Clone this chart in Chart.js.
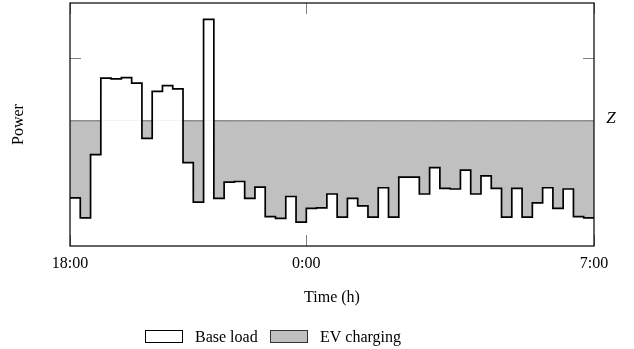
<!DOCTYPE html>
<html>
<head>
<meta charset="utf-8">
<script src="https://cdn.jsdelivr.net/npm/chart.js@4.4.0/dist/chart.umd.min.js"></script>
<style>
  html, body { margin: 0; padding: 0; background: #fff; }
</style>
</head>
<body>
<canvas id="chart" width="634" height="349"></canvas>
<script>
// base load for each 15 min slot from 18:00 to 7:00 (arbitrary power units)
const baseLoad = [0.77, 0.45, 1.46, 2.68, 2.67, 2.69, 2.60, 1.72, 2.47, 2.56,
                  2.51, 1.33, 0.70, 3.62, 0.76, 1.02, 1.03, 0.76, 0.94, 0.47,
                  0.44, 0.79, 0.38, 0.60, 0.61, 0.83, 0.46, 0.76, 0.64, 0.46,
                  0.93, 0.46, 1.10, 1.10, 0.83, 1.25, 0.92, 0.91, 1.21, 0.83,
                  1.12, 0.92, 0.46, 0.92, 0.46, 0.69, 0.93, 0.60, 0.91, 0.47,
                  0.45];
const zLevel = 2.0;           // level Z filled up by EV charging
const xTickPos = [0, 23, 51];
const xTickLabels = ["18:00", "0:00", "7:00"];
const yTickPos = [3];
const seriesNames = ["Base load", "EV charging"];

const FONT = "'Liberation Serif', 'Times New Roman', serif";

// points for the stepped line (last value repeated to close the last slot)
const basePoints = baseLoad.map((v, i) => ({ x: i, y: v }));
basePoints.push({ x: baseLoad.length, y: baseLoad[baseLoad.length - 1] });
const zPoints = basePoints.map(p => ({ x: p.x, y: zLevel }));

// frame, inner ticks, Z label and legend
const decorations = {
    id: "decorations",
    afterDraw(chart) {
        const ctx = chart.ctx;
        const a = chart.chartArea;
        const xs = chart.scales.x;
        const ys = chart.scales.y;
        ctx.save();

        // inner ticks
        ctx.strokeStyle = "#808080";
        ctx.lineWidth = 1;
        ctx.beginPath();
        xTickPos.forEach(v => {
            const px = Math.round(xs.getPixelForValue(v)) + 0.5;
            ctx.moveTo(px, a.bottom); ctx.lineTo(px, a.bottom - 11);
            ctx.moveTo(px, a.top); ctx.lineTo(px, a.top + 11);
        });
        yTickPos.forEach(v => {
            const py = Math.round(ys.getPixelForValue(v)) + 0.5;
            ctx.moveTo(a.left, py); ctx.lineTo(a.left + 11, py);
            ctx.moveTo(a.right, py); ctx.lineTo(a.right - 11, py);
        });
        ctx.stroke();

        // frame
        ctx.strokeStyle = "#000";
        ctx.lineWidth = 1.2;
        ctx.strokeRect(a.left, a.top, a.right - a.left, a.bottom - a.top);

        // Z label
        ctx.fillStyle = "#000";
        ctx.font = "italic 17px " + FONT;
        ctx.textAlign = "center";
        ctx.textBaseline = "middle";
        ctx.fillText("Z", 611, ys.getPixelForValue(zLevel) - 2);

        // legend
        const items = [
            { x: 145, fill: "#fff", stroke: "#000", text: seriesNames[0] },
            { x: 270, fill: "#c0c0c0", stroke: "#333", text: seriesNames[1] },
        ];
        ctx.font = "16px " + FONT;
        ctx.textAlign = "left";
        ctx.textBaseline = "alphabetic";
        items.forEach(it => {
            ctx.fillStyle = it.fill;
            ctx.fillRect(it.x + 0.5, 330.5, 37, 12);
            ctx.strokeStyle = it.stroke;
            ctx.lineWidth = 1;
            ctx.strokeRect(it.x + 0.5, 330.5, 37, 12);
            ctx.fillStyle = "#000";
            ctx.fillText(it.text, it.x + 50, 341.5);
        });
        ctx.restore();
    },
};

new Chart(document.getElementById("chart"), {
    type: "line",
    data: {
        datasets: [
            {
                label: seriesNames[0],
                data: basePoints,
                stepped: "before",
                borderColor: "#000",
                borderWidth: 1.7,
                backgroundColor: "#fff",
                pointRadius: 0,
                fill: { target: { value: zLevel }, above: "rgba(0,0,0,0)", below: "#c0c0c0" },
                order: 0,
            },
            {
                label: seriesNames[1],
                data: zPoints,
                stepped: "before",
                borderColor: "#444",
                borderWidth: 0.8,
                backgroundColor: "#c0c0c0",
                pointRadius: 0,
                fill: false,
                order: 1,
                segment: {
                    borderColor: c => baseLoad[c.p0DataIndex] < zLevel ? "#444" : "rgba(0,0,0,0)",
                },
            },
        ],
    },
    options: {
        responsive: false,
        animation: false,
        layout: { padding: { top: 3, right: 40, bottom: 40, left: 0 } },
        plugins: {
            legend: { display: false },
            tooltip: { enabled: false },
            filler: { drawTime: "beforeDatasetsDraw" },
        },
        scales: {
            x: {
                type: "linear",
                min: 0,
                max: baseLoad.length,
                afterFit: s => { s.height = 63; },
                afterBuildTicks: s => { s.ticks = xTickPos.map(v => ({ value: v })); },
                grid: { display: false, drawTicks: false },
                border: { display: false },
                ticks: {
                    padding: 8,
                    maxRotation: 0,
                    autoSkip: false,
                    color: "#000",
                    font: { family: FONT, size: 16 },
                    callback: v => xTickLabels[xTickPos.indexOf(v)],
                },
                title: {
                    display: true,
                    text: "Time (h)",
                    color: "#000",
                    font: { family: FONT, size: 16 },
                    padding: { top: 0, bottom: 2 },
                },
            },
            y: {
                min: 0,
                max: 3.88,
                afterFit: s => { s.width = 70; },
                grid: { display: false, drawTicks: false },
                border: { display: false },
                ticks: { display: false },
                title: {
                    display: true,
                    text: "Power",
                    color: "#000",
                    font: { family: FONT, size: 16 },
                    padding: { top: 9, bottom: 0 },
                },
            },
        },
    },
    plugins: [decorations],
});
</script>
</body>
</html>
